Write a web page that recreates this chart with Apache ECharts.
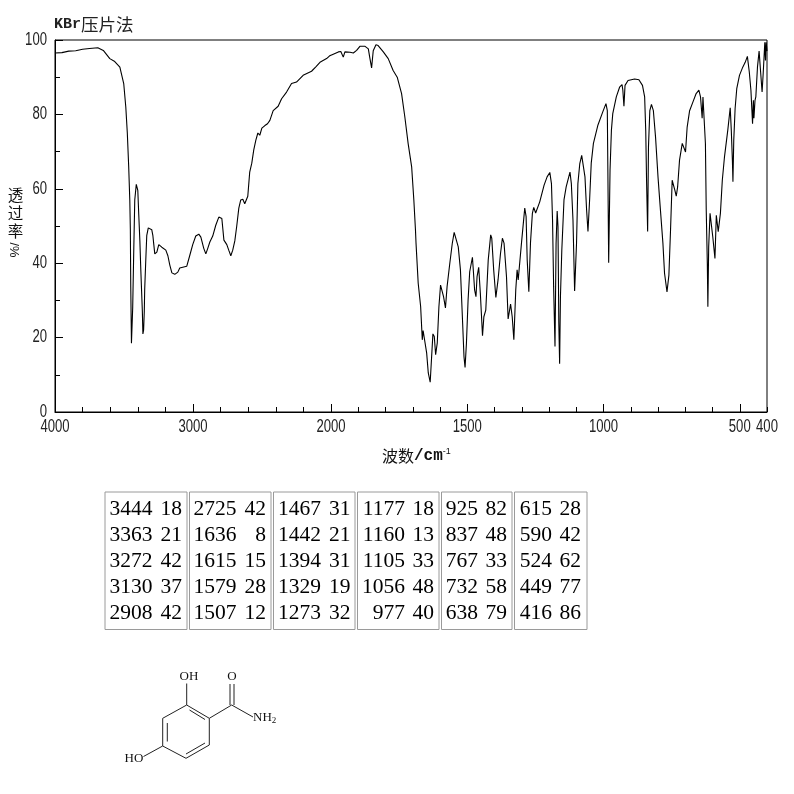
<!DOCTYPE html>
<html>
<head>
<meta charset="utf-8">
<style>html,body{margin:0;padding:0;background:#fff}#c{width:794px;height:794px}</style>
<script src="https://cdn.jsdelivr.net/npm/echarts@6/dist/echarts.min.js"></script>
</head>
<body>
<div id="c"></div>
<script>
// [wavenumber, %T] 4000-2000 cm-1
const highRegion = [[4000,96.5],[3950,96.6],[3900,97],[3850,97.1],[3800,97.5],[3750,97.7],[3690,97.9],[3650,97.2],[3603,95],[3567,94.2],[3530,92.7],[3516,90.5],[3502,88.3],[3487,82],[3476,75],[3466,66],[3458,57],[3454,49],[3451,33.6],[3446,18.5],[3444,18],[3441,19],[3437,28],[3429,44],[3422,57],[3411,61.2],[3400,59.6],[3393,53],[3385,46],[3378,38],[3367,27],[3363,21],[3358,22],[3353,27],[3350,33],[3342,41],[3335,47.5],[3324,49.5],[3313,50],[3299,49],[3291,47.5],[3284,45],[3277,42.5],[3270,42],[3262,43],[3248,45],[3226,44.3],[3197,43.5],[3182,42],[3168,39.5],[3153,37.4],[3132,37],[3110,37.6],[3096,38.7],[3067,39],[3045,39.2],[3024,42],[3002,45],[2980,47.3],[2958,47.8],[2943,47],[2922,44],[2907,42.5],[2893,44],[2878,45.7],[2857,47.3],[2835,50.2],[2813,52.4],[2791,52],[2776,46.2],[2755,45],[2741,43.5],[2726,42],[2712,43.5],[2697,46],[2683,50],[2668,54.8],[2654,57],[2639,57.2],[2625,56],[2614,55.6],[2603,58],[2589,64.5],[2574,66.9],[2560,70.4],[2545,73],[2530,75],[2516,74.4],[2501,76.3],[2479,77],[2460,77.5],[2443,78.4],[2419,81],[2383,82.2],[2358,84.2],[2322,86],[2286,88.3],[2250,88.7],[2202,90.5],[2141,91.6],[2110,92.8],[2080,94],[2032,95],[2008,95.8],[2000,95.9]];
// [wavenumber, %T] 2000-400 cm-1
const lowRegion = [[2000,95.9],[1973,96.8],[1964,96.9],[1955,95.4],[1949,96.8],[1930,96.7],[1918,96.5],[1906,97.2],[1894,98.3],[1875,98.3],[1863,97.6],[1858,95.4],[1851,92.5],[1845,97.1],[1835,98.7],[1827,98.5],[1808,96.8],[1790,95],[1772,91.8],[1757,90],[1741,85.6],[1729,79.3],[1717,72.2],[1704,65.9],[1696,57],[1690,48.9],[1688,45.4],[1680,34.6],[1671,28.3],[1665,19.4],[1662,21.9],[1656,21.6],[1649,15.9],[1643,10.5],[1636,8],[1631,14.5],[1626,21],[1621,20.3],[1616,15.4],[1610,18.6],[1604,28.3],[1598,34.1],[1592,34.4],[1587,31],[1580,28],[1574,33.7],[1564,40],[1555,45.3],[1548,48.3],[1542,48],[1533,44.4],[1525,38.2],[1517,24],[1512,14.9],[1508,12],[1503,18.5],[1497,30],[1491,37.7],[1481,41.6],[1477,37.3],[1473,32.8],[1468,31],[1464,36.4],[1458,38.9],[1452,32],[1444,20.5],[1439,25.6],[1432,27.4],[1423,40.9],[1414,47.6],[1410,46.7],[1403,38.2],[1395,30.8],[1387,35.5],[1378,42.6],[1371,46.7],[1365,45.4],[1356,36.4],[1350,25],[1341,29],[1335,25.6],[1329,19.4],[1322,32.8],[1317,38.2],[1313,35.5],[1308,35],[1301,45.4],[1289,54.8],[1284,52.5],[1280,40.9],[1274,32.3],[1268,45.4],[1261,53.4],[1256,55],[1249,53.5],[1242,53.5],[1234,56.5],[1227,56.8],[1218,61],[1207,63.2],[1197,64.4],[1191,61.4],[1187,51.6],[1183,33.7],[1178,17.6],[1174,45.4],[1170,54],[1167,49.8],[1164,24],[1161,13],[1158,31],[1153,43.5],[1145,57],[1137,60.5],[1123,64.5],[1118,61.4],[1112,51.6],[1106,32.5],[1099,45.3],[1094,61.4],[1087,66.8],[1080,69],[1073,68.6],[1068,63.2],[1062,54.3],[1057,48.5],[1051,57],[1045,66.9],[1037,72.2],[1021,77],[1003,80.6],[991,82.9],[986,81],[984,65],[981,40.1],[976,65],[971,75.7],[966,80.2],[953,84.7],[941,87.3],[932,88],[929,86.5],[925,82.2],[921,87.8],[910,89.1],[886,89.5],[870,89.3],[857,87.8],[849,84.7],[845,75.7],[842,62.3],[838,48.5],[835,71.2],[830,81],[824,82.7],[817,81],[809,73.9],[800,63.2],[792,55.2],[782,45.4],[776,37.3],[767,32.3],[760,36.8],[754,48.9],[748,62.3],[743,62.8],[738,59.6],[733,58],[728,60.5],[721,67.7],[711,72.2],[705,72.2],[699,69.9],[693,76.6],[684,81],[672,83.3],[660,85.6],[650,86.5],[644,84.7],[640,81],[638,79],[635,84.7],[630,84.2],[626,72.2],[623,54.3],[619,40],[617,28.3],[614,44.4],[609,53.4],[604,52.9],[599,47.1],[591,41.3],[586,52.9],[579,48.5],[571,53.4],[564,62.3],[556,68.6],[544,75.7],[535,81.8],[531,75.7],[527,67.7],[525,61.9],[522,73],[517,81.6],[511,86.9],[501,90.5],[489,92.7],[480,94],[472,95.6],[465,91.4],[459,86.5],[453,77.5],[450,83.8],[448,79],[444,83.8],[441,84.7],[435,92.7],[429,97],[424,96.7],[418,86],[414,91],[408,99.4],[405.5,94.5],[403,99.4],[400,97]];

const yTickLabels = [0,20,40,60,80,100];
const xLabelsHigh = [4000,3000,2000];
const xLabelsLow = [1500,1000,500,400];

const peakWavenumbers = [
  [3444,3363,3272,3130,2908],
  [2725,1636,1615,1579,1507],
  [1467,1442,1394,1329,1273],
  [1177,1160,1105,1056,977],
  [925,837,767,732,638],
  [615,590,524,449,416]
];
const peakTransmittance = [
  [18,21,42,37,42],
  [42,8,15,28,12],
  [31,21,31,19,32],
  [18,13,33,48,40],
  [82,48,33,58,79],
  [28,42,62,77,86]
];

const yNameChars = '透\n过\n率';
const yNameUnit = '%/';

// layout
const plot = {l:55, r:767, t:40, b:412, split:331};
const sans = '"Liberation Sans",sans-serif';
const serif = '"Liberation Serif",serif';
const mono = '"Liberation Mono",monospace';
const cjk = '"Noto Sans CJK SC",sans-serif';

// table layout: column box [left,right], wavenumber right edge, value right edge
const tableCols = [
  {l:105,r:187,a:152.5,b:182},
  {l:189.5,r:271,a:236.5,b:266},
  {l:273.5,r:355,a:321,b:350.5},
  {l:357.5,r:439,a:405,b:434},
  {l:441.5,r:512,a:478,b:507},
  {l:514.5,r:587,a:552,b:581}
];
const tableTop = 492, tableBottom = 629.5;
const rowBase = [520,546,572,598,624];

const graphics = [];
tableCols.forEach((c,i)=>{
  graphics.push({type:'rect',silent:true,shape:{x:c.l,y:tableTop,width:c.r-c.l,height:tableBottom-tableTop},
    style:{fill:'none',stroke:'#9a9a9a',lineWidth:1}});
  rowBase.forEach((y,j)=>{
    graphics.push({type:'text',silent:true,x:c.a,y:y,style:{text:String(peakWavenumbers[i][j]),font:'21.5px '+serif,fill:'#000',textAlign:'right',textVerticalAlign:'bottom'}});
    graphics.push({type:'text',silent:true,x:c.b,y:y,style:{text:String(peakTransmittance[i][j]),font:'21.5px '+serif,fill:'#000',textAlign:'right',textVerticalAlign:'bottom'}});
  });
});

// axis captions
graphics.push({type:'text',silent:true,x:54,y:24,style:{
  text:'{a|KBr}{b|压片法}',textVerticalAlign:'middle',
  rich:{a:{font:'bold 15px '+mono,fill:'#222'},b:{font:'17.5px '+cjk,fill:'#222'}}}});
graphics.push({type:'text',silent:true,x:382,y:456,style:{
  text:'{a|波数}{m|/cm}{s|-1}',textVerticalAlign:'middle',
  rich:{a:{font:'16px '+cjk,fill:'#111'},m:{font:'bold 16px '+mono,fill:'#111'},s:{font:'9px '+sans,fill:'#111',verticalAlign:'top',padding:[0,0,8,0]}}}});
graphics.push({type:'text',silent:true,x:15.5,y:213,style:{
  text:yNameChars,font:'15.5px '+cjk,lineHeight:18,fill:'#111',textAlign:'center',textVerticalAlign:'middle'}});
graphics.push({type:'text',silent:true,x:15,y:250,rotation:Math.PI/2,style:{
  text:yNameUnit,font:'13px '+sans,fill:'#111',textAlign:'center',textVerticalAlign:'middle'}});

// structure drawing
const bonds = [
  [186.7,705,209.3,718.3],[209.3,718.3,209.3,745],[209.3,745,186,758.3],[186,758.3,162.7,746],[162.7,746,162.7,718.3],[162.7,718.3,186.7,705],
  [167.3,723,167.3,741.5],[189.5,710,205,719.5],[186,754,205,743],
  [186.7,705,186.7,683.5],[209.3,718.3,231.7,705],[230,705,230,684],[234,705,234,684],[231.7,705,253,717],[162.7,746,143.5,756.5]
];
bonds.forEach(b=>graphics.push({type:'line',silent:true,shape:{x1:b[0],y1:b[1],x2:b[2],y2:b[3]},style:{stroke:'#222',lineWidth:1}}));
const chemFont = '13px '+serif;
[['OH',189,677],['O',232,677],['HO',134,759]].forEach(t=>graphics.push({type:'text',silent:true,x:t[1],y:t[2],
  style:{text:t[0],font:chemFont,fill:'#111',textAlign:'center',textVerticalAlign:'middle'}}));
graphics.push({type:'text',silent:true,x:253,y:718,style:{text:'{a|NH}{s|2}',textVerticalAlign:'middle',
  rich:{a:{font:chemFont,fill:'#111'},s:{font:'9px '+serif,fill:'#111',padding:[6,0,0,0]}}}});

const blackLine = {color:'#000',width:1};

const option = {
  animation:false,
  backgroundColor:'#fff',
  grid:[
    {left:plot.l,top:plot.t,width:plot.split-plot.l,height:plot.b-plot.t},
    {left:plot.split,top:plot.t,width:plot.r-plot.split,height:plot.b-plot.t},
    {left:plot.l,top:plot.t,width:plot.r-plot.l,height:plot.b-plot.t,show:true,borderColor:'#000',borderWidth:1,backgroundColor:'transparent'}
  ],
  xAxis:[
    {type:'value',gridIndex:0,min:2000,max:4000,inverse:true,interval:1000,splitLine:{show:false},
     axisLine:{lineStyle:blackLine,onZero:false},
     axisTick:{inside:true,length:8,lineStyle:blackLine},
     minorTick:{show:true,splitNumber:5,length:5,lineStyle:blackLine},
     axisLabel:{show:false}},
    {type:'value',gridIndex:1,min:400,max:2000,inverse:true,interval:100,splitLine:{show:false},
     axisLine:{lineStyle:blackLine,onZero:false},
     axisTick:{inside:true,length:5,lineStyle:blackLine},
     axisLabel:{show:false}},
    {type:'value',gridIndex:1,min:400,max:2000,inverse:true,position:'bottom',splitLine:{show:false},
     axisLine:{show:false,onZero:false},
     axisTick:{inside:true,length:8,lineStyle:blackLine,customValues:[500,1000,1500]},
     axisLabel:{show:false}},
    {type:'value',gridIndex:2,show:false,min:0,max:1}
  ],
  yAxis:[
    {type:'value',gridIndex:0,min:0,max:100,interval:20,splitLine:{show:false},
     axisLine:{show:true,lineStyle:blackLine,onZero:false},
     axisTick:{show:true,inside:true,length:8,lineStyle:blackLine},
     minorTick:{show:true,splitNumber:2,length:5,lineStyle:blackLine},
     axisLabel:{show:false}},
    {type:'value',gridIndex:1,min:0,max:100,show:false},
    {type:'value',gridIndex:2,show:false,min:0,max:1}
  ],
  series:[
    {type:'line',name:'high',xAxisIndex:0,yAxisIndex:0,data:highRegion,showSymbol:false,smooth:false,sampling:null,
     lineStyle:{color:'#000',width:1.1},silent:true},
    {type:'line',name:'low',xAxisIndex:1,yAxisIndex:1,data:lowRegion,showSymbol:false,smooth:false,sampling:null,
     lineStyle:{color:'#000',width:1.1},silent:true}
  ]
};
const chart = echarts.init(document.getElementById('c'),null,{renderer:'canvas',width:794,height:794});
chart.setOption(option);

// tick labels: horizontally condensed text placed through the axes' own scales
const tickFont = '17.5px '+sans, tickScale = 0.75, tickFill = '#222';
function tickLabel(v,x,y,align){
  return {type:'text',silent:true,x:x,y:y,scaleX:tickScale,
    style:{text:String(v),font:tickFont,fill:tickFill,textAlign:align,textVerticalAlign:'middle'}};
}
const xLabelY = chart.convertToPixel({yAxisIndex:0},0) + 15;
const yLabelX = chart.convertToPixel({xAxisIndex:0},4000) - 8;
xLabelsHigh.forEach(v=>graphics.push(tickLabel(v,chart.convertToPixel({xAxisIndex:0},v),xLabelY,'center')));
xLabelsLow.forEach(v=>graphics.push(tickLabel(v,chart.convertToPixel({xAxisIndex:1},v),xLabelY,'center')));
yTickLabels.forEach(v=>graphics.push(tickLabel(v,yLabelX,chart.convertToPixel({yAxisIndex:0},v),'right')));
chart.setOption({graphic:graphics});
</script>
</body>
</html>
